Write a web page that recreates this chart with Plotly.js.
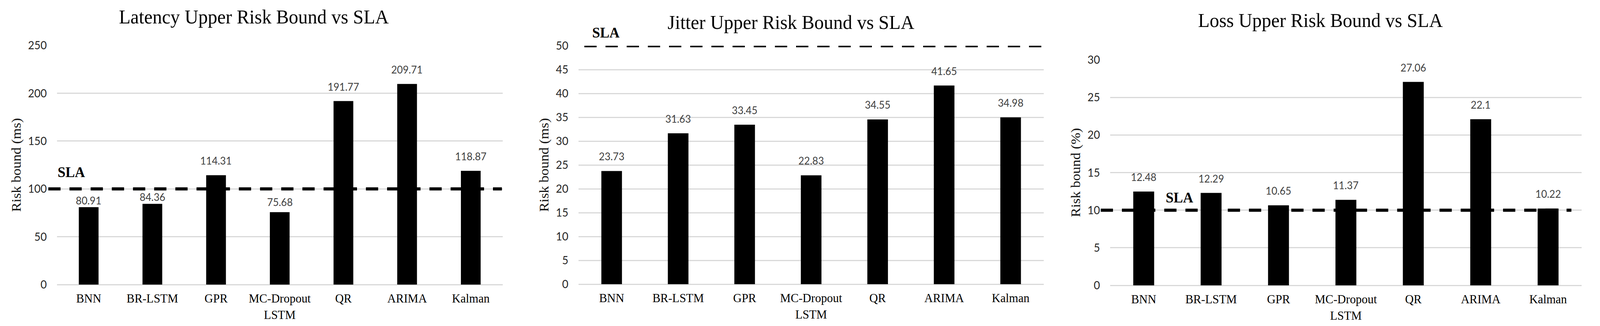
<!DOCTYPE html>
<html>
<head>
<meta charset="utf-8">
<script src="https://cdn.plot.ly/plotly-3.0.1.min.js"></script>
<style>
html,body{margin:0;padding:0;background:#fff;overflow:hidden;}
#chart{width:4307px;height:834px;transform-origin:0 0;}
</style>
</head>
<body>
<div id="chart"></div>
<script>
// ---------------- DATA ----------------
const categories = ['BNN', 'BR-LSTM', 'GPR', 'MC-Dropout LSTM', 'QR', 'ARIMA', 'Kalman'];
const tickLabels = ['BNN', 'BR-LSTM', 'GPR', 'MC-Dropout<br>LSTM', 'QR', 'ARIMA', 'Kalman'];

const latencyValues = [80.91, 84.36, 114.31, 75.68, 191.77, 209.71, 118.87];
const jitterValues  = [23.73, 31.63, 33.45, 22.83, 34.55, 41.65, 34.98];
const lossValues    = [12.48, 12.29, 10.65, 11.37, 27.06, 22.1, 10.22];

const slaValues   = [100, 50, 10];
const panelTitles = ['Latency Upper Risk Bound vs SLA', 'Jitter Upper Risk Bound vs SLA', 'Loss Upper Risk Bound vs SLA'];
const yTitles     = ['Risk bound (ms)', 'Risk bound (ms)', 'Risk bound (%)'];
const yRanges     = [[0, 250], [0, 50], [0, 30]];
const yDticks     = [50, 5, 5];

// ---------------- LAYOUT GEOMETRY (pixels) ----------------
const W = 4307, H = 834;
const panels = [
  {x0: 153,  x1: 1353, yTop: 116, yBot: 728, titleX: 683,  titleY: 43, slaX0: 130,  slaX1: 1351, slaLabelX: 153,  slaLabelShift: 20},
  {x0: 1557, x1: 2810, yTop: 117, yBot: 727, titleX: 2129, titleY: 57, slaX0: 1573, slaX1: 2810, slaLabelX: 1592, slaLabelShift: 11},
  {x0: 2988, x1: 4258, yTop: 153, yBot: 730, titleX: 3554, titleY: 52, slaX0: 2963, slaX1: 4230, slaLabelX: 3136, slaLabelShift: 10}
];
// per-label vertical offsets (px) of the value labels (the original moved some labels)
const labelShifts = [
  [-1, -1, 19, 8, 19, 19, 19],
  [19, 19, 19, 19, 19, 19, 19],
  [19, 19, 19, 19, 19, 19, 19]
];

const seriesValues = [latencyValues, jitterValues, lossValues];
const serif = '"Liberation Serif", "Times New Roman", serif';
const sans = 'Lato, Calibri, "Open Sans", sans-serif';

const traces = [];
const annotations = [];
const shapes = [];
const layout = {
  width: W, height: H,
  autosize: false,
  margin: {l: 0, r: 0, t: 0, b: 0},
  paper_bgcolor: '#ffffff',
  plot_bgcolor: '#ffffff',
  showlegend: false,
  font: {family: serif, color: '#000'}
};

panels.forEach((p, i) => {
  const n = i === 0 ? '' : String(i + 1);
  const xa = 'x' + n, ya = 'y' + n;
  traces.push({
    type: 'bar',
    x: categories,
    y: seriesValues[i],
    xaxis: xa, yaxis: ya,
    width: 0.31,
    marker: {color: '#000000', line: {width: 0}},
    hoverinfo: 'x+y'
  });

  layout['xaxis' + n] = {
    domain: [p.x0 / W, p.x1 / W],
    anchor: ya,
    type: 'category',
    tickmode: 'array',
    tickvals: categories,
    ticktext: tickLabels,
    showgrid: false,
    zeroline: false,
    showline: false,
    ticks: '',
    ticklabelstandoff: 13,
    tickfont: {family: serif, size: 32, color: '#000'},
    fixedrange: true
  };
  layout['yaxis' + n] = {
    domain: [1 - p.yBot / H, 1 - p.yTop / H],
    anchor: xa,
    range: yRanges[i],
    dtick: yDticks[i],
    tick0: 0,
    showgrid: true,
    gridcolor: '#d9d9d9',
    gridwidth: 3,
    zeroline: true,
    zerolinecolor: '#d9d9d9',
    zerolinewidth: 3,
    showline: false,
    ticks: '',
    ticklabelstandoff: 26,
    tickfont: {family: sans, size: 29, color: '#262626'},
    title: {text: yTitles[i], font: {family: serif, size: 36, color: '#111'}, standoff: 8},
    fixedrange: true
  };

  annotations.push({
    xref: 'paper', yref: 'paper',
    x: p.titleX / W, y: 1 - p.titleY / H,
    xanchor: 'center', yanchor: 'middle',
    text: panelTitles[i], showarrow: false,
    font: {family: serif, size: 51, color: '#000'}
  });

  seriesValues[i].forEach((v, k) => {
    annotations.push({
      xref: xa, yref: ya,
      x: categories[k], y: v,
      xanchor: 'center', yanchor: 'bottom',
      yshift: labelShifts[i][k],
      text: String(v), showarrow: false,
      font: {family: sans, size: 27, color: '#404040'}
    });
  });

  shapes.push({
    type: 'line', xref: 'paper', yref: ya,
    x0: p.slaX0 / W, x1: p.slaX1 / W,
    y0: slaValues[i], y1: slaValues[i],
    line: {color: '#000', width: 8, dash: '33px,24px'},
    layer: 'above'
  });
  annotations.push({
    xref: 'paper', yref: ya,
    x: p.slaLabelX / W, y: slaValues[i],
    xanchor: 'left', yanchor: 'bottom',
    yshift: p.slaLabelShift,
    text: '<b>SLA</b>', showarrow: false,
    font: {family: serif, size: 38, color: '#000'}
  });
});

layout.annotations = annotations;
layout.shapes = shapes;

// The browser viewport may be narrower than the 4307px reference; fit the full figure horizontally.
const sx = Math.min(1, window.innerWidth / W);
document.getElementById('chart').style.transform = 'scale(' + sx + ',1)';

Plotly.newPlot('chart', traces, layout, {staticPlot: true, displayModeBar: false, responsive: false});
</script>
</body>
</html>
